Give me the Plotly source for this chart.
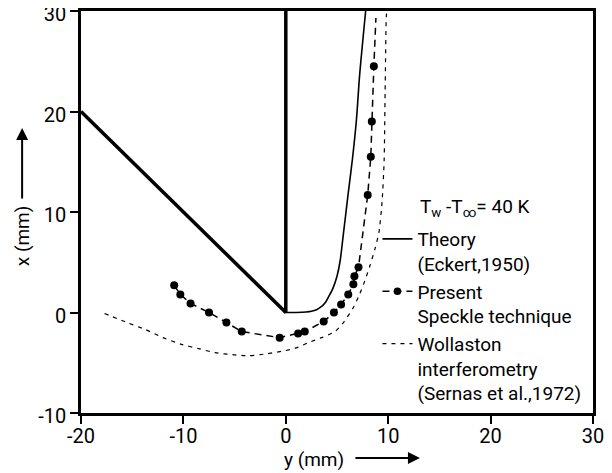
import plotly.graph_objects as go

# ---- data (y in mm horizontal, x in mm vertical) ----
wedge_y = [-20, 0, 0]
wedge_x = [20, 0, 30]

theory_y = [0, 1.0, 2.0, 2.5, 3.0, 3.5, 3.9, 4.2, 4.6, 5.0, 5.3, 5.6, 6.1, 6.5, 6.9, 7.2, 7.8]
theory_x = [0, 0.0, 0.05, 0.12, 0.28, 0.6, 1.05, 1.6, 2.4, 3.6, 5.1, 7.6, 11.9, 15.2, 19.2, 23.5, 30]

speckle_y = [-10.9, -10.3, -9.3, -7.5, -5.8, -4.3, -0.6, 1.2, 1.85, 3.7, 4.7, 5.4,
             6.1, 6.6, 6.7, 7.1, 8.0, 8.3, 8.4, 8.6, 8.8]
speckle_x = [2.7, 1.8, 0.9, 0.0, -1.0, -1.9, -2.5, -2.1, -1.9, -0.9, 0.0, 0.8,
             1.8, 2.8, 3.6, 4.5, 11.7, 15.5, 19.0, 24.5, 29.3]
speckle_measured = [True] * 20 + [False]

woll_y = [-17.7, -15.5, -13.7, -12, -10.1, -8.5, -6.9, -5.2, -3.6, -1.8, -0.1, 1.1,
          2.2, 3.5, 4.8, 5.7, 6.6, 7.2, 7.7, 8.2, 8.7, 9.1, 9.4, 9.6, 9.7, 9.8, 9.85]
woll_x = [-0.1, -1.0, -1.7, -2.5, -3.2, -3.6, -4.0, -4.2, -4.3, -4.1, -3.8, -3.5,
          -3.0, -2.5, -1.9, -0.9, 0.5, 1.8, 3.1, 4.6, 6.3, 8.0, 11, 15, 22, 29, 30]

x_ticks = [-20, -10, 0, 10, 20, 30]
x_tick_text = ["-20", "-10", "0", "10", "20", "30"]
y_ticks = [-10, 0, 10, 20, 30]
y_tick_text = ["-10", "0", "10", "20", "30"]

FONT = "Liberation Sans Narrow, Roboto, DejaVu Sans, sans-serif"

fig = go.Figure()

fig.add_trace(go.Scatter(x=wedge_y, y=wedge_x, mode="lines",
                         line=dict(color="black", width=3.5),
                         showlegend=False, hoverinfo="skip"))

fig.add_trace(go.Scatter(x=theory_y, y=theory_x, mode="lines",
                         line=dict(color="black", width=1.6, shape="spline", smoothing=0.8),
                         name="Theory<br>(Eckert,1950)"))

fig.add_trace(go.Scatter(x=speckle_y, y=speckle_x, mode="lines+markers",
                         line=dict(color="black", width=1.5, dash="7px,5px"),
                         marker=dict(color="black", opacity=1,
                                     size=[8 if m else 0 for m in speckle_measured],
                                     line=dict(width=0)),
                         name="Present<br>Speckle technique"))

fig.add_trace(go.Scatter(x=woll_y, y=woll_x, mode="lines",
                         line=dict(color="black", width=1.2, dash="4px,5px",
                                   shape="spline", smoothing=0.6),
                         name="Wollaston<br>interferometry<br>(Sernas et al.,1972)"))

axis_common = dict(showline=True, linecolor="black", linewidth=2.5, mirror=True,
                   ticks="outside", ticklen=8, tickwidth=1.5, tickcolor="black",
                   showgrid=False, zeroline=False, automargin=False,
                   ticklabeloverflow="allow",
                   tickfont=dict(family=FONT, size=20, color="black"))

fig.update_xaxes(range=[-20, 30], tickvals=x_ticks, ticktext=x_tick_text,
                 ticklabelstandoff=-5, **axis_common)
fig.update_yaxes(range=[-10, 30], tickvals=y_ticks, ticktext=y_tick_text,
                 ticklabelshift=3, **axis_common)

# the page body adds an 8px offset, so the figure is 8px smaller than the window
fig.update_layout(
    width=604, height=465,
    margin=dict(l=73, r=19, t=3, b=60),
    paper_bgcolor="white", plot_bgcolor="white",
    font=dict(family=FONT, size=19, color="black"),
    legend=dict(x=0.579, y=0.48, xanchor="left", yanchor="top",
                bgcolor="rgba(0,0,0,0)", itemwidth=30, valign="top",
                font=dict(family=FONT, size=19)),
    annotations=[
        dict(text="T<sub>w</sub> -T<sub>∞</sub>= 40 K", xref="paper", yref="paper",
             x=0.658, y=0.51, xanchor="left", yanchor="middle",
             showarrow=False, font=dict(family=FONT, size=19)),
        dict(text="y (mm)", xref="paper", yref="paper", x=0.455, y=-0.115,
             xanchor="center", yanchor="middle",
             showarrow=False, font=dict(family=FONT, size=19)),
        dict(text="", xref="paper", yref="paper", x=0.662, y=-0.112,
             showarrow=True, ax=-66, ay=0, arrowhead=2, arrowsize=1.2,
             arrowwidth=2, arrowcolor="black"),
        dict(text="x (mm)", xref="paper", yref="paper", x=-0.115, y=0.44,
             xanchor="center", yanchor="middle",
             showarrow=False, textangle=-90, font=dict(family=FONT, size=19)),
        dict(text="", xref="paper", yref="paper", x=-0.115, y=0.709,
             showarrow=True, ax=0, ay=72, arrowhead=2, arrowsize=1.2,
             arrowwidth=2, arrowcolor="black"),
    ],
)

fig.write_html("out.html")
